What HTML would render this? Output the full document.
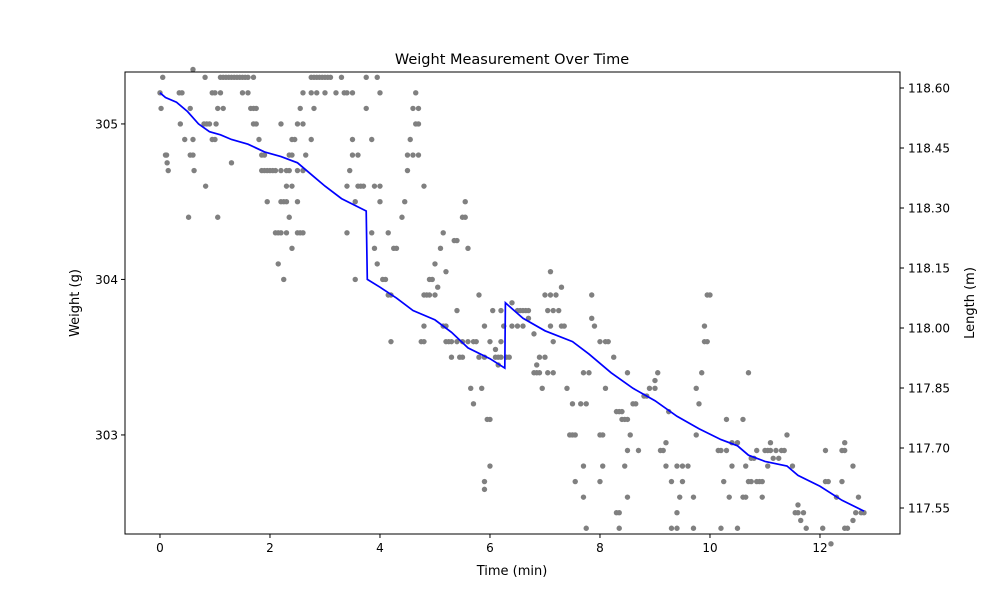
<!DOCTYPE html>
<html><head><meta charset="utf-8"><style>
html,body{margin:0;padding:0;background:#fff;}
svg text{font-family:"DejaVu Sans","Liberation Sans",sans-serif;fill:#000;}
</style></head><body>
<svg id="chart" width="1000" height="600" xmlns="http://www.w3.org/2000/svg">
<rect width="1000" height="600" fill="#fff"/>
<text x="512" y="64" text-anchor="middle" font-size="14.5">Weight Measurement Over Time</text>
<g id="marks"></g>
<rect x="125" y="72" width="775" height="462" fill="none" stroke="#000" stroke-width="1"/>
<g id="axes"></g>
<text x="512" y="575" text-anchor="middle" font-size="13">Time (min)</text>
<text transform="translate(79,303) rotate(-90)" text-anchor="middle" font-size="13">Weight (g)</text>
<text transform="translate(974,303) rotate(-90)" text-anchor="middle" font-size="13">Length (m)</text>
</svg>
<script>
const xTicks=[0,2,4,6,8,10,12];
const yTicks=[303,304,305];
const y2Ticks=["118.60","118.45","118.30","118.15","118.00","117.85","117.70","117.55"];
const lineT=[0,0.1,0.3,0.5,0.7,0.9,1.1,1.3,1.6,1.9,2.2,2.5,2.8,3.0,3.3,3.75,3.77,4.0,4.3,4.6,5.0,5.3,5.6,6.0,6.27,6.28,6.6,7.0,7.5,7.8,8.2,8.6,9.0,9.4,9.8,10.2,10.5,10.7,11.0,11.4,11.6,12.0,12.4,12.8];
const lineW=[305.2,305.17,305.14,305.08,305.0,304.95,304.93,304.9,304.87,304.82,304.79,304.75,304.66,304.6,304.52,304.44,304.0,303.95,303.88,303.8,303.74,303.66,303.56,303.49,303.43,303.85,303.75,303.67,303.6,303.52,303.4,303.3,303.22,303.12,303.04,302.97,302.93,302.87,302.83,302.8,302.74,302.67,302.58,302.51];
const pts=[[0.05,305.3],[0,305.2],[0.02,305.1],[0.1,304.8],[0.12,304.8],[0.13,304.75],[0.15,304.7],
[0.35,305.2],[0.4,305.2],[0.37,305.0],[0.52,304.4],[0.45,304.9],
[0.6,305.35],[0.55,304.8],[0.6,304.8],[0.6,304.9],[0.62,304.7],[0.55,305.1],
[0.82,305.3],[0.8,305.0],[0.85,305.0],[0.9,305.0],[0.83,304.6],[0.95,304.9],[1.0,304.9],[0.95,305.2],
[1.1,305.3],[1.15,305.3],[1.2,305.3],[1.25,305.3],[1.3,305.3],[1.35,305.3],[1.4,305.3],[1.45,305.3],[1.5,305.3],[1.55,305.3],[1.0,305.2],[1.1,305.2],[1.5,305.2],[1.05,305.1],[1.15,305.1],[1.02,305.0],[1.05,304.4],[1.3,304.75],
[1.6,305.3],[1.7,305.3],[1.65,305.1],[1.7,305.1],[1.75,305.1],[1.7,305.0],[1.75,305.0],[1.8,304.9],[1.85,304.8],[1.9,304.8],[1.85,304.7],[1.9,304.7],[1.95,304.7],[2.0,304.7],[2.05,304.7],[2.1,304.7],[1.95,304.5],[1.6,305.2],
[2.1,304.3],[2.15,304.3],[2.2,304.3],[2.3,304.3],[2.15,304.1],[2.25,304.0],[2.2,304.5],[2.25,304.5],[2.3,304.5],[2.2,304.7],[2.3,304.7],[2.35,304.7],[2.3,304.6],[2.4,304.6],[2.35,304.4],[2.4,304.2],[2.2,305.0],[2.35,304.8],[2.4,304.8],[2.4,304.9],[2.45,304.9],
[2.5,304.3],[2.55,304.3],[2.6,304.3],[2.5,304.5],[2.5,304.7],[2.6,304.7],[2.65,304.8],[2.5,305.0],[2.6,305.0],[2.55,305.1],[2.6,305.2],[2.75,305.2],[2.85,305.2],[2.75,305.3],[2.8,305.3],[2.85,305.3],[2.9,305.3],[2.95,305.3],[2.8,305.1],[2.75,304.9],
[3.0,305.3],[3.05,305.3],[3.1,305.3],[3.0,305.2],[3.2,305.2],[3.3,305.3],
[3.35,305.2],[3.4,305.2],[3.5,305.2],[3.45,304.7],[3.4,304.6],[3.6,304.6],[3.65,304.6],[3.7,304.6],[3.55,304.5],[3.5,304.9],[3.55,304.0],[3.4,304.3],[3.5,304.8],[3.6,304.8],[3.75,305.3],[3.75,305.1],[3.85,304.9],
[3.85,304.3],[3.9,304.2],[3.9,304.6],[4.0,304.6],[3.95,304.1],[3.95,305.3],[4.0,305.2],[4.0,304.5],[4.05,304.0],[4.15,303.9],[4.2,303.9],[4.2,303.6],[4.15,304.3],
[4.25,304.2],[4.3,304.2],[4.4,304.4],[4.45,304.5],[4.5,304.7],[4.5,304.8],[4.6,304.8],[4.7,304.8],[4.55,304.9],[4.65,305.0],[4.7,305.0],[4.6,305.1],[4.7,305.1],[4.65,305.2],[4.8,304.6],[4.75,303.6],[4.8,303.6],[4.8,303.7],[4.1,304.0],
[4.8,303.9],[4.85,303.9],[4.9,303.9],[5.0,303.9],[4.9,304.0],[4.95,304.0],[5.05,303.95],[5.1,304.2],[5.15,304.3],[5.15,303.7],[5.2,303.7],[5.2,303.6],[5.25,303.6],[5.3,303.6],[5.3,303.5],[5.0,304.1],[5.2,304.05],
[5.35,304.25],[5.4,304.25],[5.4,303.8],[5.4,303.6],[5.5,303.6],[5.6,303.6],[5.45,303.5],[5.5,303.5],[5.5,304.4],[5.55,304.4],[5.55,304.5],[5.6,304.2],[5.65,303.3],[5.7,303.2],[5.7,303.6],[5.75,303.6],[5.8,303.5],[5.9,303.5],[5.8,303.9],[5.85,303.3],[5.9,302.7],[5.9,302.65],[5.95,303.1],[6.0,303.1],[6.0,302.8],
[5.9,303.7],[6.05,303.8],[6.1,303.5],[6.15,303.5],[6.2,303.5],[6.15,303.45],[6.1,303.55],[6.0,303.6],[6.2,303.6],[6.25,303.7],[6.2,303.8],
[6.3,303.5],[6.35,303.5],[6.4,303.7],[6.5,303.7],[6.6,303.7],[6.5,303.8],[6.55,303.8],[6.6,303.8],[6.65,303.8],[6.7,303.8],[6.7,303.75],[6.8,303.65],[6.4,303.85],[6.8,303.4],[6.85,303.4],[6.9,303.4],[6.85,303.45],[6.9,303.5],[7.0,303.5],[6.95,303.3],[7.0,303.9],[7.1,304.05],[7.05,303.8],[7.15,303.8],[7.1,303.7],
[7.1,303.9],[7.2,303.9],[7.3,303.95],[7.25,303.8],[7.3,303.7],[7.35,303.7],[7.05,303.4],[7.15,303.4],[7.15,303.6],
[7.4,303.3],[7.5,303.2],[7.45,303.0],[7.5,303.0],[7.55,303.0],[7.55,302.7],[7.75,302.4],[7.7,303.4],[7.8,303.4],[7.65,303.2],[7.75,303.2],[7.7,302.8],[7.7,302.6],[7.85,303.75],[7.9,303.7],[7.85,303.9],
[8.0,303.0],[8.05,303.0],[8.05,302.8],[8.1,303.3],[8.0,303.6],[8.1,303.6],[8.15,303.6],[8.0,302.7],[8.25,303.5],[8.3,303.15],[8.35,303.15],[8.4,303.15],[8.4,303.1],[8.45,303.1],[8.5,303.1],[8.3,302.5],[8.35,302.5],[8.35,302.4],[8.45,302.8],[8.55,303.0],
[8.6,303.2],[8.65,303.2],[8.5,303.4],[8.5,302.9],[8.5,302.6],[8.7,302.9],[8.8,303.25],[8.85,303.25],[8.9,303.3],[9.0,303.3],[9.0,303.35],[9.05,303.4],
[9.1,302.9],[9.15,302.9],[9.2,302.95],[9.2,302.8],[9.3,302.7],[9.3,302.4],[9.4,302.4],[9.25,303.15],[9.4,302.8],[9.5,302.8],[9.6,302.8],[9.4,302.5],[9.5,302.7],[9.45,302.6],
[9.75,303.3],[9.8,303.2],[9.75,303.0],[9.7,302.6],[9.7,302.4],[9.9,303.6],[9.95,303.6],[9.9,303.7],[9.95,303.9],[10.0,303.9],[9.85,303.4],
[10.15,302.9],[10.2,302.9],[10.3,302.9],[10.25,302.7],[10.2,302.4],[10.35,302.6],[10.3,303.1],[10.4,302.8],[10.4,302.95],[10.5,302.95],[10.5,302.4],[10.6,302.6],[10.65,302.6],[10.65,302.8],[10.6,303.1],[10.7,303.4],
[10.7,302.7],[10.75,302.7],[10.75,302.85],[10.8,302.85],[10.85,302.7],[10.9,302.7],[10.95,302.7],[10.95,302.6],[10.85,302.9],
[11.0,302.9],[11.05,302.9],[11.1,302.9],[11.2,302.9],[11.3,302.9],[11.35,302.9],[11.15,302.85],[11.25,302.85],[11.05,302.8],[11.1,302.95],[11.4,303.0],[11.5,302.8],[11.6,302.55],[11.55,302.5],[11.6,302.5],[11.7,302.5],[11.65,302.45],
[11.75,302.4],[12.05,302.4],[12.2,302.3],[12.1,302.7],[12.15,302.7],[12.1,302.9],[12.3,302.6],
[12.4,302.9],[12.45,302.9],[12.45,302.95],[12.4,302.7],[12.45,302.4],[12.5,302.4],[12.6,302.8],[12.6,302.45],[12.65,302.5],[12.75,302.5],[12.8,302.5],[12.7,302.6]];

const NS="http://www.w3.org/2000/svg";
const L=125,R=900,T=72,B=534;
const xMin=-0.636,xMax=13.455,yMin=302.363,yMax=305.334;
function xs(t){return L+(t-xMin)/(xMax-xMin)*(R-L);}
function ys(w){return B-(w-yMin)/(yMax-yMin)*(B-T);}
function y2s(v){return 88+(118.60-v)/0.15*60;}
function mk(tag,attrs,parent){const e=document.createElementNS(NS,tag);for(const k in attrs)e.setAttribute(k,attrs[k]);parent.appendChild(e);return e;}
const marks=document.getElementById('marks'),axes=document.getElementById('axes');
pts.forEach(p=>{
 const c=mk('circle',{cx:xs(p[0]),cy:ys(p[1]),r:2.7,fill:'#808080'},marks);
 
 
});
let d='';lineT.forEach((t,i)=>{d+=(i?'L':'M')+xs(t).toFixed(1)+','+ys(lineW[i]).toFixed(1);});
const ln=mk('path',{d:d,fill:'none',stroke:'#0000ff','stroke-width':1.7},marks);


xTicks.forEach(t=>{
 const x=xs(t);
 mk('line',{x1:x,x2:x,y1:B,y2:B+4,stroke:'#000'},axes);
 const tx=mk('text',{x:x,y:B+18,'text-anchor':'middle','font-size':12},axes);tx.textContent=t;
 
 
});
yTicks.forEach(v=>{
 const y=ys(v);
 mk('line',{x1:L-4,x2:L,y1:y,y2:y,stroke:'#000'},axes);
 const tx=mk('text',{x:L-7,y:y+4.5,'text-anchor':'end','font-size':12},axes);tx.textContent=v;
 
 
});
y2Ticks.forEach(s=>{
 const y=y2s(parseFloat(s));
 mk('line',{x1:R,x2:R+4,y1:y,y2:y,stroke:'#000'},axes);
 const tx=mk('text',{x:R+8,y:y+4.5,'text-anchor':'start','font-size':12},axes);tx.textContent=s;
 
 
});
</script>
</body></html>
